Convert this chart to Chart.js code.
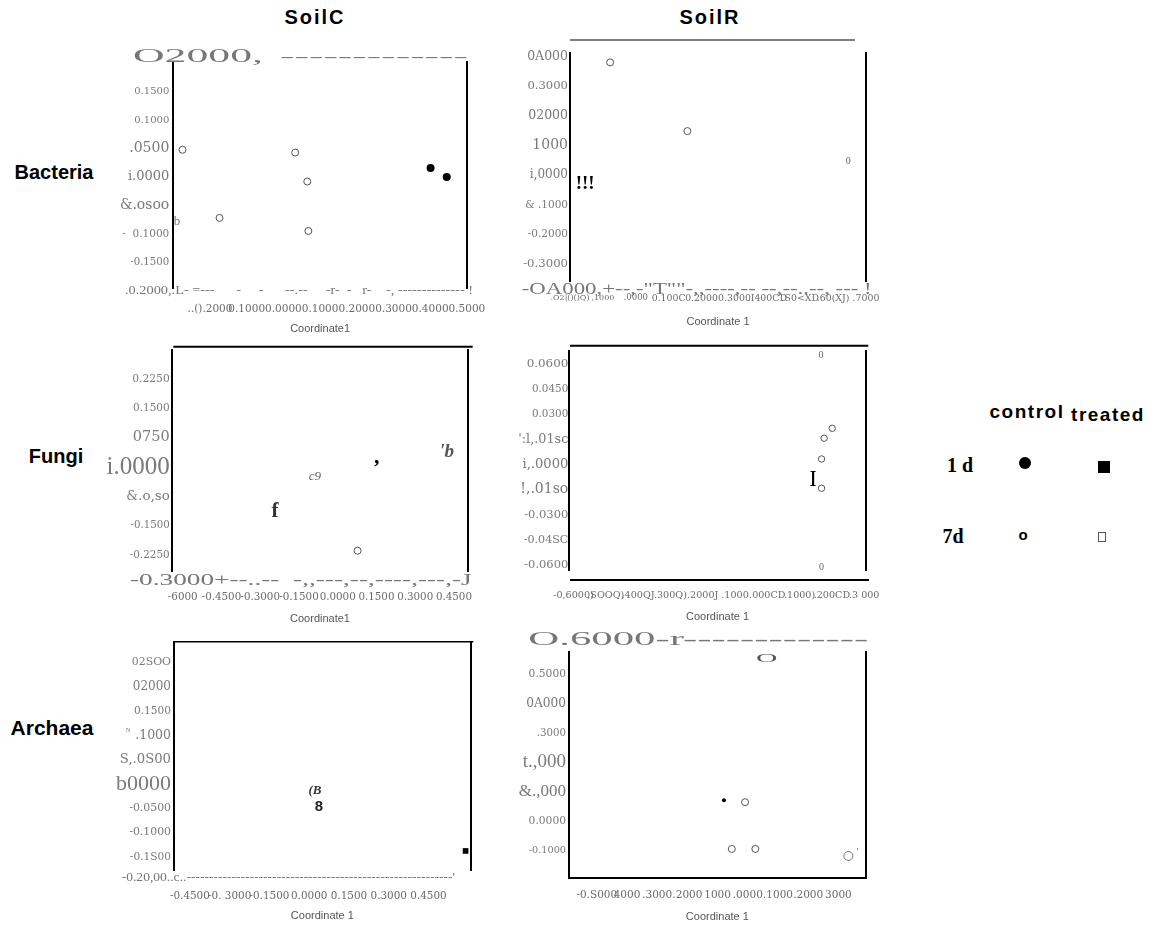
<!DOCTYPE html>
<html><head><meta charset="utf-8">
<script src="https://cdn.jsdelivr.net/npm/chart.js@4.4.1/dist/chart.umd.min.js"></script>
<style>
html,body{margin:0;padding:0;background:#fff;}
body{position:relative;width:1153px;height:926px;overflow:hidden;font-family:'Liberation Sans',Arial,sans-serif;}
canvas{position:absolute;}
.t{position:absolute;transform:translate(-50%,-50%);white-space:nowrap;color:#000;}
.hd{font-weight:bold;font-size:20px;font-family:'Liberation Sans',Arial,sans-serif;}
.sf{font-family:'Liberation Serif','Times New Roman',serif;font-weight:bold;font-size:20px;}
</style></head><body>
<div class="t hd" style="left:315px;top:17px;letter-spacing:2px">SoilC</div>
<div class="t hd" style="left:710px;top:17px;letter-spacing:2px">SoilR</div>
<div class="t hd" style="left:54px;top:172px">Bacteria</div>
<div class="t hd" style="left:56px;top:456px">Fungi</div>
<div class="t hd" style="left:52px;top:728px;font-size:21px">Archaea</div>
<div class="t hd" style="left:1027px;top:412px;font-size:19px;letter-spacing:1.5px">control</div>
<div class="t hd" style="left:1108px;top:415px;font-size:19px;letter-spacing:1.5px">treated</div>
<div class="t sf" style="left:960px;top:465px">1 d</div>
<div class="t sf" style="left:953px;top:536px">7d</div>
<div class="t" style="left:1025px;top:463px;width:12px;height:12px;border-radius:50%;background:#000"></div>
<div class="t" style="left:1104px;top:467px;width:12px;height:12px;background:#000"></div>
<div class="t" style="left:1023px;top:534px;font:bold 15px 'Liberation Sans'">o</div>
<div class="t" style="left:1102px;top:537px;width:8px;height:10px;border:1px solid #555;box-sizing:border-box"></div>
<script>
// ---------------- DATA ----------------
// Bacteria – SoilC
const bacC_xTicks = [-0.2, -0.1, 0, 0.1, 0.2, 0.3, 0.4, 0.5];
const bacC_xLabels = ['..().2000', '0.1000', '0.0000', '0.1000', '0.2000', '0.3000', '0.4000', '0.5000'];
const bacC_yTicks = [0.15, 0.1, 0.05, 0, -0.05, -0.1, -0.15];
const bacC_yLabels = ['0.1500', '0.1000', '.0500', 'i.0000', '&.osoo', '-  0.1000', '-0.1500'];
const bacC_open7dX = [-0.275, -0.174, 0.032, 0.065, 0.068];
const bacC_open7dY = [0.048, -0.072, 0.043, -0.008, -0.095];
const bacC_fill1dX = [0.401, 0.445];
const bacC_fill1dY = [0.016, 0.000];
const bacC_glyphText = ['b'];
const bacC_glyphX = [-0.290];
const bacC_glyphY = [-0.079];

// Bacteria – SoilR
const bacR_xTicks = [-0.2, -0.1, 0, 0.1, 0.2, 0.3, 0.4, 0.5, 0.6, 0.7];
const bacR_xLabels = ['.O2|()()Q)', ',1000', '.0000', '0.100C', '0.2000', '0.3000', '.I400CD', '.S0<XD', '.60(XJ)', '.7000'];
const bacR_yTicks = [0.4, 0.3, 0.2, 0.1, 0, -0.1, -0.2, -0.3];
const bacR_yLabels = ['0A000', '0.3000', '02000', '1000', 'i,0000', '& .1000', '-0.2000', '-0.3000'];
const bacR_open7dX = [-0.078, 0.157];
const bacR_open7dY = [0.381, 0.149];
const bacR_glyphText = ['0', '!!!'];
const bacR_glyphX = [0.646, -0.154];
const bacR_glyphY = [0.046, -0.030];

// Fungi – SoilC
const funC_xTicks = [-0.6, -0.45, -0.3, -0.15, 0, 0.15, 0.3, 0.45];
const funC_xLabels = ['-6000', '-0.4500', '-0.3000', '-0.1500', '0.0000', '0.1500', '0.3000', '0.4500'];
const funC_yTicks = [0.225, 0.15, 0.075, 0, -0.075, -0.15, -0.225];
const funC_yLabels = ['0.2250', '0.1500', '0750', 'i.0000', '&.o,so', '-0.1500', '-0.2250'];
const funC_open7dX = [0.077];
const funC_open7dY = [-0.214];
const funC_glyphText = ["'b", ',', 'c9', 'f'];
const funC_glyphX = [0.422, 0.151, -0.088, -0.243];
const funC_glyphY = [0.039, 0.026, -0.025, -0.114];

// Fungi – SoilR
const funR_xTicks = [-0.6, -0.5, -0.4, -0.3, -0.2, -0.1, 0, 0.1, 0.2, 0.3];
const funR_xLabels = ['-0,6000)', ',SOOQ)', ',400QJ', '.300Q)', '.2000J', '.1000', '.000CD', '.1000)', '.200CD', '.3 000'];
const funR_yTicks = [0.06, 0.045, 0.03, 0.015, 0, -0.015, -0.03, -0.045, -0.06];
const funR_yLabels = ['0.0600', '0.0450', '0.0300', "':l,.01sc", 'i,.0000', '!,.01so', '-0.0300', '-0.04SC', '-0.0600'];
const funR_open7dX = [0.176, 0.201, 0.168, 0.168];
const funR_open7dY = [0.0157, 0.0216, 0.0033, -0.0142];
const funR_glyphText = ['0', 'I', '0'];
const funR_glyphX = [0.166, 0.142, 0.168];
const funR_glyphY = [0.0654, -0.0093, -0.0617];

// Archaea – SoilC
const arcC_xTicks = [-0.45, -0.3, -0.15, 0, 0.15, 0.3, 0.45];
const arcC_xLabels = ['-0.4500', '-0. 3000', '-0.1500', '0.0000', '0.1500', '0.3000', '0.4500'];
const arcC_yTicks = [0.25, 0.2, 0.15, 0.1, 0.05, 0, -0.05, -0.1, -0.15];
const arcC_yLabels = ['02SOO', '02000', '0.1500', '.1000', 'S,.0S00', 'b0000', '-0.0500', '-0.1000', '-0.1S00'];
const arcC_sq1dX = [0.590];
const arcC_sq1dY = [-0.138];
const arcC_glyphText = ['(B', '8'];
const arcC_glyphX = [0.022, 0.037];
const arcC_glyphY = [-0.013, -0.047];

// Archaea – SoilR
const arcR_xTicks = [-0.5, -0.4, -0.3, -0.2, -0.1, 0, 0.1, 0.2, 0.3];
const arcR_xLabels = ['-0.S000', '4000', '.3000', '.2000', '1000', '.0000', '.1000', '.2000', '3000'];
const arcR_yTicks = [0.5, 0.4, 0.3, 0.2, 0.1, 0, -0.1];
const arcR_yLabels = ['0.5000', '0A000', '.3000', 't.,000', '&.,000', '0.0000', '-0.1000'];
const arcR_open7dX = [-0.009, -0.053, 0.025];
const arcR_open7dY = [0.065, -0.094, -0.094];
const arcR_fill1dX = [-0.079];
const arcR_fill1dY = [0.072];
const arcR_ring7dX = [0.333];
const arcR_ring7dY = [-0.118];
const arcR_glyphText = ['O', "'"];
const arcR_glyphX = [0.063, 0.363];
const arcR_glyphY = [0.551, -0.107];

// ---------------- LAYOUT / STYLE ----------------
const SERIF = "'Liberation Serif','Times New Roman',serif";
const DSERIF = "'DejaVu Serif',serif";
const pts = (xs, ys) => xs.map((x, i) => ({x, y: ys[i]}));

const openDs = (xs, ys, r, w) => ({data: pts(xs, ys), pointStyle: 'circle', pointRadius: r || 3.5,
  borderWidth: w || 1, pointBorderColor: '#555', pointBackgroundColor: 'rgba(0,0,0,0)', clip: false});
const fillDs = (xs, ys, r) => ({data: pts(xs, ys), pointStyle: 'circle', pointRadius: r || 3.5,
  borderWidth: 0, pointBorderColor: '#000', pointBackgroundColor: '#000', clip: false});
const sqDs = (xs, ys, r) => ({data: pts(xs, ys), pointStyle: 'rect', pointRadius: r || 4,
  borderWidth: 0, pointBorderColor: '#000', pointBackgroundColor: '#000', clip: false});
const glyphDs = (txt, xs, ys, styles) => ({data: pts(xs, ys), pointRadius: 0, glyphs: txt, glyphStyles: styles, clip: false});

// y.serif: tick indexes drawn in the tall Liberation Serif face instead of DejaVu Serif
const PANELS = [
  { box: [100, 40, 400, 300], area: [73.3, 22, 368.7, 248],
    x: {min: -0.3, max: 0.5, ticks: bacC_xTicks, labels: bacC_xLabels, pad: 14.7, sizes: [10.5], title: 'Coordinate1', tpad: 4.4, border: false},
    y: {min: -0.1954, max: 0.2025, ticks: bacC_yTicks, labels: bacC_yLabels, pad: 4, sizes: [10, 10, 14, 13, 14, 10.5, 10.2], serif: []},
    datasets: [openDs(bacC_open7dX, bacC_open7dY), fillDs(bacC_fill1dX, bacC_fill1dY, 4),
      glyphDs(bacC_glyphText, bacC_glyphX, bacC_glyphY, [{font: '13px ' + SERIF, color: '#777'}])],
    texts: [
      {t: 'O2000,', x: 33, y: 17, w: 130, size: 18},
      {t: '-------------', x: 180, y: 17, w: 188, size: 14},
      {t: '.0.2000,.L- =---      -     -      --.--     -r-  -   r-    -, -------------- !', x: 25, y: 250.7, w: 348, size: 12}
    ], lines: [] },
  { box: [500, 30, 400, 310], area: [70, 23, 366, 251.5],
    x: {min: -0.2, max: 0.7, ticks: bacR_xTicks, labels: bacR_xLabels, pad: 11.2, sizes: [8, 8, 8.5, 9.4, 9.4, 9.4, 9.4, 9.4, 9.4, 9.4], title: 'Coordinate 1', tpad: 11.7, border: false},
    y: {min: -0.359, max: 0.4127, ticks: bacR_yTicks, labels: bacR_yLabels, pad: 2, sizes: [12.5, 11.6, 12.5, 14, 12, 10.5, 10.5, 11.7], serif: []},
    datasets: [openDs(bacR_open7dX, bacR_open7dY, 3.5),
      glyphDs(bacR_glyphText, bacR_glyphX, bacR_glyphY, [{font: '10px ' + SERIF, color: '#666'}, {font: 'bold 19px ' + SERIF, color: '#000'}])],
    texts: [
      {t: '-OA000,+--,-"T""-,,----,-- --,--..--, --- !', x: 21.7, y: 259.3, w: 350, size: 17}
    ],
    lines: [{x1: 70, x2: 355, y: 10, w: 1.5, c: '#555'}] },
  { box: [100, 340, 400, 290], area: [71.7, 10, 368.3, 231.7],
    x: {min: -0.6426, max: 0.5056, ticks: funC_xTicks, labels: funC_xLabels, pad: 19.7, sizes: [10.3], title: 'Coordinate1', tpad: 4.4, border: false},
    y: {min: -0.2677, max: 0.2992, ticks: funC_yTicks, labels: funC_yLabels, pad: 2, sizes: [10.7, 10.5, 14.5, 25, 13.4, 10.2, 10.4], serif: [3]},
    datasets: [openDs(funC_open7dX, funC_open7dY),
      glyphDs(funC_glyphText, funC_glyphX, funC_glyphY, [
        {font: 'bold italic 19px ' + SERIF, color: '#555'}, {font: 'bold 22px ' + SERIF, color: '#000'},
        {font: 'italic 13px ' + SERIF, color: '#666'}, {font: 'bold 21px ' + SERIF, color: '#333'}])],
    texts: [
      {t: '-0.3000+--..--  -,,---,--,----,---,-J', x: 30, y: 240.7, w: 341.7, size: 17}
    ],
    lines: [{x1: 73.3, x2: 372.7, y: 6.7, w: 2, c: '#000'}] },
  { box: [500, 340, 400, 290], area: [69.3, 10.7, 365.7, 230],
    x: {min: -0.613, max: 0.3046, ticks: funR_xTicks, labels: funR_xLabels, pad: 19.7, sizes: [9.6], title: 'Coordinate 1', tpad: 6.4, border: false},
    y: {min: -0.06305, max: 0.068, ticks: funR_yTicks, labels: funR_yLabels, pad: 1, sizes: [11.9, 10.4, 10.4, 12.8, 13.1, 14, 11.5, 11.1, 11.5], serif: []},
    datasets: [openDs(funR_open7dX, funR_open7dY, 3.2),
      glyphDs(funR_glyphText, funR_glyphX, funR_glyphY, [
        {font: '10px ' + SERIF, color: '#666'}, {font: '23px ' + SERIF, color: '#000'}, {font: '10px ' + SERIF, color: '#666'}])],
    texts: [],
    lines: [{x1: 70, x2: 368.3, y: 5.7, w: 2, c: '#000'}, {x1: 70, x2: 369, y: 240, w: 2, c: '#000'}] },
  { box: [100, 630, 400, 296], area: [74, 11.7, 370.7, 240],
    x: {min: -0.51, max: 0.6093, ticks: arcC_xTicks, labels: arcC_xLabels, pad: 19.7, sizes: [10.4], title: 'Coordinate 1', tpad: 3.7, border: false},
    y: {min: -0.1772, max: 0.2926, ticks: arcC_yTicks, labels: arcC_yLabels, pad: 3, sizes: [10.9, 12, 10.6, 12.5, 13.2, 22, 10.9, 10.9, 10.6], serif: [5]},
    datasets: [sqDs(arcC_sq1dX, arcC_sq1dY, 4),
      glyphDs(arcC_glyphText, arcC_glyphX, arcC_glyphY, [
        {font: 'italic bold 13px ' + SERIF, color: '#333'}, {font: "bold 15px 'Liberation Sans'", color: '#222'}])],
    texts: [
      {t: "-0.20,00..c..-----------------------------------------------------------'", x: 21.7, y: 248.3, w: 333.3, size: 12},
      {t: 'N', x: 26, y: 100, size: 6}
    ],
    lines: [{x1: 75, x2: 373.3, y: 11.7, w: 1.5, c: '#000'}] },
  { box: [500, 630, 400, 296], area: [69, 21.7, 365.7, 248],
    x: {min: -0.592, max: 0.3904, ticks: arcR_xTicks, labels: arcR_xLabels, pad: 10.7, sizes: [10.5], title: 'Coordinate 1', tpad: 2.5, border: true},
    y: {min: -0.1929, max: 0.5769, ticks: arcR_yTicks, labels: arcR_yLabels, pad: 3, sizes: [10.7, 12.2, 10.2, 19, 17, 10.7, 9.7], serif: [3, 4]},
    datasets: [openDs(arcR_open7dX, arcR_open7dY), fillDs(arcR_fill1dX, arcR_fill1dY, 2),
      openDs(arcR_ring7dX, arcR_ring7dY, 4.5, 0.8),
      glyphDs(arcR_glyphText, arcR_glyphX, arcR_glyphY, [
        {font: '22px ' + SERIF, color: '#555', sx: 1.35, sy: 0.55}, {font: '10px ' + SERIF, color: '#555'}])],
    texts: [
      {t: 'O.6000-r-------------', x: 28.3, y: 10, w: 340, size: 18}
    ],
    lines: [] }
];

function makePlugin(p) {
  return {
    id: 'overlay',
    afterDatasetsDraw(chart) {
      const ctx = chart.ctx;
      chart.data.datasets.forEach((ds, i) => {
        if (!ds.glyphs) return;
        const meta = chart.getDatasetMeta(i);
        meta.data.forEach((el, j) => {
          const st = ds.glyphStyles[j] || ds.glyphStyles[0];
          ctx.save();
          ctx.font = st.font; ctx.fillStyle = st.color;
          ctx.textAlign = 'center'; ctx.textBaseline = 'middle';
          ctx.translate(el.x, el.y);
          ctx.scale(st.sx || 1, st.sy || 1);
          ctx.fillText(ds.glyphs[j], 0, 0);
          ctx.restore();
        });
      });
    },
    afterDraw(chart) {
      const ctx = chart.ctx;
      p.lines.forEach(l => {
        ctx.save(); ctx.strokeStyle = l.c; ctx.lineWidth = l.w;
        ctx.beginPath(); ctx.moveTo(l.x1, l.y); ctx.lineTo(l.x2, l.y); ctx.stroke(); ctx.restore();
      });
      p.texts.forEach(t => {
        ctx.save();
        ctx.font = t.size + 'px ' + SERIF; ctx.fillStyle = t.color || '#777';
        ctx.textAlign = 'left'; ctx.textBaseline = 'middle';
        const m = ctx.measureText(t.t).width;
        ctx.translate(t.x, t.y);
        if (t.w) ctx.scale(t.w / m, 1);
        ctx.fillText(t.t, 0, 0);
        ctx.restore();
      });
    }
  };
}

PANELS.forEach(p => {
  const cv = document.createElement('canvas');
  cv.width = p.box[2]; cv.height = p.box[3];
  cv.style.left = p.box[0] + 'px'; cv.style.top = p.box[1] + 'px';
  cv.style.width = p.box[2] + 'px'; cv.style.height = p.box[3] + 'px';
  document.body.appendChild(cv);
  const [aL, aT, aR, aB] = p.area;
  const W = p.box[2], H = p.box[3];
  new Chart(cv, {
    type: 'scatter',
    data: {datasets: p.datasets},
    options: {
      responsive: false, animation: false, devicePixelRatio: 1,
      events: [],
      layout: {padding: {left: 0, top: aT, right: W - aR, bottom: 0}},
      plugins: {legend: {display: false}, tooltip: {enabled: false}},
      scales: {
        x: {
          type: 'linear', position: 'bottom', min: p.x.min, max: p.x.max,
          afterBuildTicks: s => { s.ticks = p.x.ticks.map(v => ({value: v})); },
          afterFit: s => { s.height = H - aB; },
          grid: {display: false, drawTicks: false},
          border: {display: p.x.border, color: '#000', width: 2},
          ticks: {
            autoSkip: false, maxRotation: 0, minRotation: 0, padding: p.x.pad,
            color: '#6a6a6a',
            font: c => ({family: DSERIF, size: p.x.sizes[c.index] || p.x.sizes[0]}),
            callback: (v, i) => p.x.labels[i]
          },
          title: {display: true, text: p.x.title, color: '#555',
            font: {family: "'Liberation Sans',Arial,sans-serif", size: 11}, padding: {top: 0, bottom: p.x.tpad}}
        },
        y: {
          type: 'linear', position: 'left', min: p.y.min, max: p.y.max,
          afterBuildTicks: s => { s.ticks = p.y.ticks.map(v => ({value: v})); },
          afterFit: s => { s.width = aL; },
          grid: {display: false, drawTicks: false},
          border: {display: true, color: '#000', width: 2},
          ticks: {
            autoSkip: false, padding: p.y.pad, color: '#7a7a7a',
            font: c => ({family: p.y.serif.includes(c.index) ? SERIF : DSERIF, size: p.y.sizes[c.index] || 11}),
            callback: (v, i) => p.y.labels[i]
          }
        },
        y2: {
          type: 'linear', position: 'right', display: true,
          afterFit: s => { s.width = 0; },
          grid: {display: false, drawTicks: false},
          border: {display: true, color: '#000', width: 2},
          ticks: {display: false}
        }
      }
    },
    plugins: [makePlugin(p)]
  });
});
</script>
</body></html>
